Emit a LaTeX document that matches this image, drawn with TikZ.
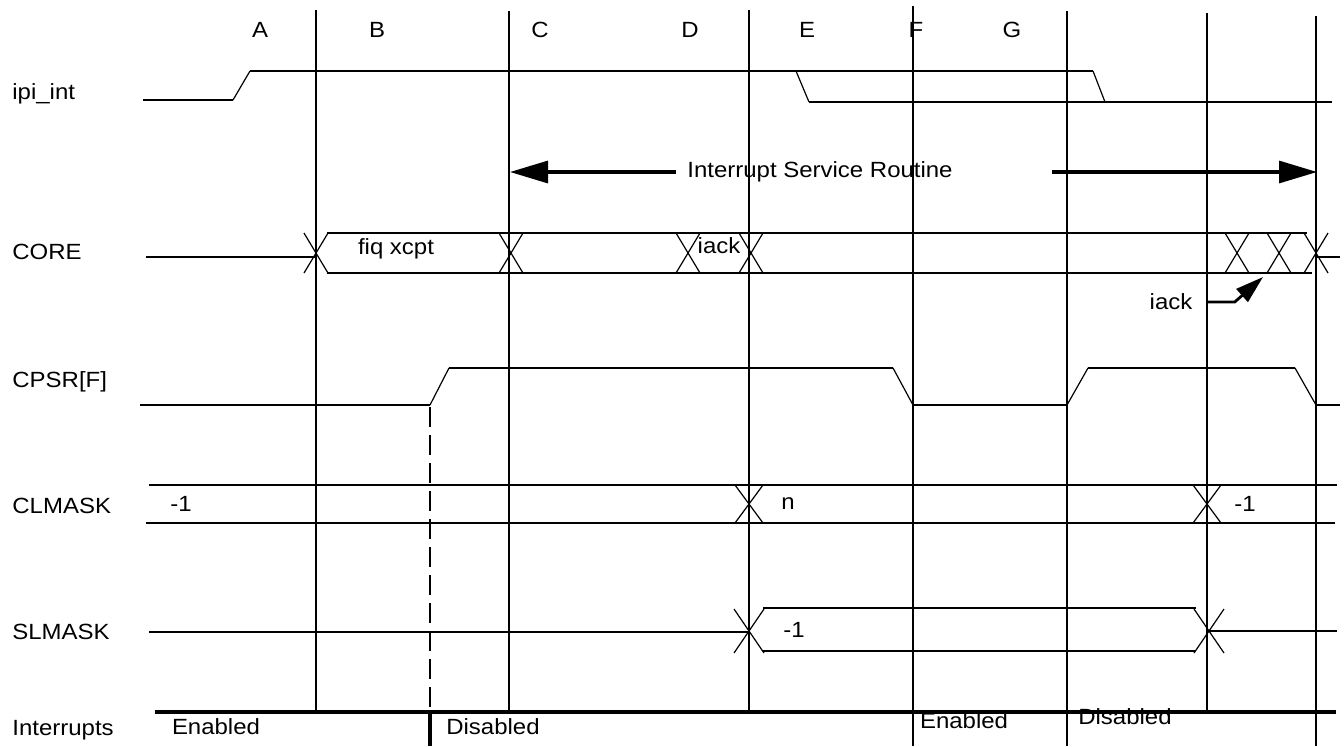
\documentclass[tikz,border=0pt]{standalone}
\usepackage{fontspec}
\setmainfont{Liberation Sans}[FakeStretch=1.09]
\usetikzlibrary{arrows.meta, positioning}

\tikzset{
  sig/.style={line width=1.4pt},
  edge/.style={line width=0.6pt},
  grid/.style={line width=1.3pt},
  txt/.style={inner sep=0pt},
  lbl/.style={inner sep=0pt, anchor=west},
  bigarrow/.style={line width=1.6pt, -{Triangle[length=19pt, width=11pt]}},
}

\begin{document}
\begin{tikzpicture}[x=0.5pt, y=-0.5pt, font=\fontsize{11}{13}\selectfont]
  \useasboundingbox (0,0) rectangle (1344,746);

  % Phasen
  \foreach \n/\x in {A/260, B/377, C/540, D/690, E/807, F/916, G/1012}
    \node[txt] (ph\n) at (\x,30) {\n};

  % Zeitlinien
  \foreach \x/\top/\bot in {316/10/711, 509/11/711, 749/10/711, 913/6/746, 1067/11/746, 1207/13/711, 1316/16/746}
    \draw[grid] (\x,\top) -- (\x,\bot);

  % Signalnamen
  \node[lbl] (ipi)  at (12,94)  {ipi\_int};
  \node[lbl] (core) at (12,252) {CORE};
  \node[lbl] (cpsr) at (12,382) {CPSR[F]};
  \node[lbl] (clm)  at (12,506) {CLMASK};
  \node[lbl] (slm)  at (12,632) {SLMASK};
  \node[lbl] (irq)  at (12,730) {Interrupts};

  % ipi_int
  \draw[sig] (143,100) -- (233,100);
  \draw[edge] (233,100) -- (250,71);
  \draw[sig] (250,71) -- (1093,71);
  \draw[edge] (1093,71) -- (1105,102);
  \draw[edge] (796,71) -- (809,102);
  \draw[sig] (809,102) -- (1332,102);

  % ISR
  \node[txt] (isr) at (820,172) {Interrupt Service Routine};
  \coordinate (isrL) at (510,172);
  \coordinate (isrR) at (1317,172);
  \draw[bigarrow] (isr.west) ++(-11,0) -- (isrL);
  \draw[bigarrow] (isr.east) ++(99,0) -- (isrR);

  % CORE
  \draw[sig] (146,257) -- (316,257);
  \draw[sig] (327,233) -- (1307,233);
  \draw[sig] (327,273) -- (1312,273);
  \foreach \x in {316, 511, 688, 751, 1237, 1279, 1316}
    \draw[edge] (\x-12,233) -- (\x+12,273) (\x-12,273) -- (\x+12,233);
  \draw[sig] (1316,257) -- (1340,257);
  \node[txt] (fiq) at (396,249) {fiq xcpt};
  \node[txt] (iacka) at (719,246) {iack};

  % iack Hinweis
  \node[txt] (iackb) at (1171,302) {iack};
  \coordinate (iackTip) at (1263,277);
  \draw[sig, -{Triangle[length=14pt, width=8.5pt]}] (iackb.east) ++(14,0) -- ++(28,0) -- (iackTip);

  % CPSR[F]
  \draw[sig] (140,405) -- (430,405);
  \draw[edge] (430,405) -- (449,368);
  \draw[sig] (449,368) -- (893,368);
  \draw[edge] (893,368) -- (913,405);
  \draw[sig] (913,405) -- (1067,405);
  \draw[edge] (1067,405) -- (1088,368);
  \draw[sig] (1088,368) -- (1295,368);
  \draw[edge] (1295,368) -- (1316,405);
  \draw[sig] (1316,405) -- (1340,405);

  % CLMASK
  \draw[sig] (149,485) -- (1337,485);
  \draw[sig] (146,523) -- (1335,523);
  \foreach \x in {749, 1207}
    \draw[edge] (\x-14,485) -- (\x+14,523) (\x-14,523) -- (\x+14,485);
  \node[txt] (clmA) at (181,504) {-1};
  \node[txt] (clmB) at (788,504) {n};
  \node[txt] (clmC) at (1245,504) {-1};

  % SLMASK
  \draw[sig] (149,632) -- (749,632);
  \draw[sig] (763,608) -- (1196,608);
  \draw[sig] (763,651) -- (1195,651);
  \foreach \x in {749, 1209}
    \draw[edge] (\x-15,609) -- (\x+15,653) (\x-15,653) -- (\x+15,609);
  \draw[sig] (1209,631) -- (1337,631);
  \node[txt] (slmA) at (794,630) {-1};

  % Interrupts
  \draw[line width=2.2pt] (155,712) -- (1336,712);
  \draw[grid, dash pattern=on 10pt off 4pt] (430,407) -- (430,712);
  \draw[line width=1.8pt] (430,712) -- (430,746);
  \node[txt] (en1)  at (216,727) {Enabled};
  \node[txt] (dis1) at (493,727) {Disabled};
  \node[txt] (en2)  at (964,721) {Enabled};
  \node[txt] (dis2) at (1125,717) {Disabled};
\end{tikzpicture}
\end{document}
